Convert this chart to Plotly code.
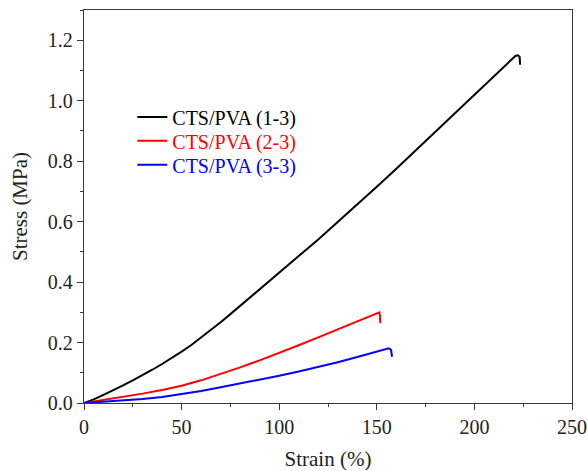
import plotly.graph_objects as go

# Tensile stress-strain curves of CTS/PVA hydrogels
strain_13 = [0, 5, 10, 15, 20, 25, 30, 35, 40, 45, 50, 55, 60, 65, 70, 75, 80, 90, 100, 110,
             120, 130, 140, 150, 160, 170, 180, 190, 200, 210, 216, 219, 221, 222.3, 223.2, 223.4]
stress_13 = [0, 0.012, 0.027, 0.042, 0.058, 0.075, 0.092, 0.110, 0.129, 0.149, 0.170, 0.192,
             0.216, 0.241, 0.267, 0.294, 0.321, 0.376, 0.431, 0.486, 0.541, 0.598, 0.656, 0.715,
             0.775, 0.836, 0.897, 0.958, 1.019, 1.08, 1.118, 1.138, 1.148, 1.15, 1.145, 1.119]

strain_23 = [0, 10, 20, 30, 40, 50, 60, 70, 80, 90, 100, 110, 120, 130, 140, 148, 150.5,
             151.3, 151.6, 151.8]
stress_23 = [0, 0.01, 0.021, 0.031, 0.043, 0.057, 0.075, 0.096, 0.118, 0.141, 0.165, 0.191,
             0.217, 0.244, 0.27, 0.291, 0.298, 0.3, 0.29, 0.264]

strain_33 = [0, 10, 20, 30, 40, 50, 60, 70, 80, 90, 100, 110, 120, 130, 140, 150, 154, 156.1,
             157.3, 157.8]
stress_33 = [0, 0.004, 0.008, 0.013, 0.02, 0.029, 0.04, 0.052, 0.064, 0.077, 0.09, 0.104,
             0.119, 0.135, 0.152, 0.169, 0.177, 0.181, 0.176, 0.153]

names = ["CTS/PVA (1-3)", "CTS/PVA (2-3)", "CTS/PVA (3-3)"]
colors = ["#000000", "#ff0000", "#0000ff"]

x_ticks = [0, 50, 100, 150, 200, 250]
y_ticks = [0.0, 0.2, 0.4, 0.6, 0.8, 1.0, 1.2]

FONT = "Liberation Serif, Times New Roman, serif"
TEXT = "#222222"

# each series gets its own legend box so the rows can sit close together
legend_ids = ["legend", "legend2", "legend3"]
legend_rows = [0.728, 0.667, 0.606]

fig = go.Figure()
for xs, ys, name, col, lg in zip([strain_13, strain_23, strain_33],
                                 [stress_13, stress_23, stress_33], names, colors, legend_ids):
    fig.add_trace(go.Scatter(
        x=xs, y=ys, mode="lines", line=dict(color=col, width=2),
        name=f"<span style='color:{col}'>{name}</span>", legend=lg,
    ))

axis_common = dict(
    showline=True, linecolor="#3a3a3a", linewidth=1.3, mirror=True,
    ticks="outside", ticklen=6, tickwidth=1, tickcolor="#3a3a3a",
    showgrid=False, zeroline=False, automargin=False,
    tickfont=dict(family=FONT, size=20, color=TEXT),
)

fig.update_xaxes(
    range=[0, 250], tickvals=x_ticks, ticktext=[str(v) for v in x_ticks],
    minor=dict(ticks="outside", ticklen=3, dtick=25, tickcolor="#3a3a3a"),
    title=dict(text="Strain (%)", font=dict(family=FONT, size=21, color=TEXT), standoff=19),
    **axis_common,
)
fig.update_yaxes(
    range=[0, 1.3], tickvals=y_ticks, ticktext=[f"{v:.1f}" for v in y_ticks],
    minor=dict(ticks="outside", ticklen=3, dtick=0.1, tickcolor="#3a3a3a"),
    title=dict(text="Stress (MPa)", font=dict(family=FONT, size=21, color=TEXT), standoff=14),
    **axis_common,
)

legend_style = dict(
    x=0.099, xanchor="left", yanchor="middle",
    bgcolor="rgba(0,0,0,0)", borderwidth=0,
    font=dict(family=FONT, size=20), itemwidth=30,
)
fig.update_layout(
    width=588, height=471,
    margin=dict(l=84, r=16, t=10, b=68),
    paper_bgcolor="white", plot_bgcolor="white",
    showlegend=True,
    **{lg: dict(y=yr, **legend_style) for lg, yr in zip(legend_ids, legend_rows)},
)

fig.write_html("out.html")
